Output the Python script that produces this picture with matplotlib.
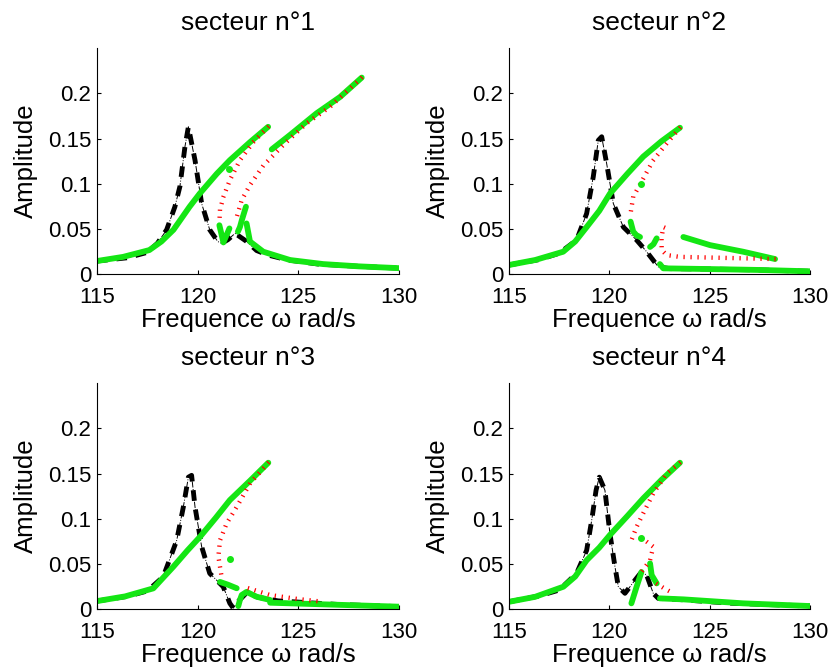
import matplotlib
matplotlib.use("Agg")
import matplotlib.pyplot as plt
import numpy as np
from matplotlib.collections import LineCollection

plt.rcParams['font.family'] = ['Liberation Sans', 'DejaVu Sans']

GREEN = '#14e614'

titles = ['secteur n°1', 'secteur n°2', 'secteur n°3', 'secteur n°4']
xticks = [115, 120, 125, 130]
yticks = [0, 0.05, 0.1, 0.15, 0.2]
ytick_labels = ['0', '0.05', '0.1', '0.15', '0.2']

# ---- secteur 1 ----
s1_black_x = [115, 116.5, 117.5, 118.0, 118.46, 118.87, 119.12, 119.37, 119.54, 119.87, 120.2, 120.6,
              121.0, 121.19, 121.5, 121.86, 122.44, 122.93, 123.5, 124.5, 126, 128, 130]
s1_black_y = [0.0144, 0.018, 0.024, 0.034, 0.049, 0.0745, 0.097, 0.141, 0.163, 0.126, 0.078, 0.049,
              0.036, 0.034, 0.038, 0.045, 0.036, 0.026, 0.021, 0.0155, 0.011, 0.0085, 0.0065]
s1_green = [
    ([115, 116.3, 117.6, 118.2, 118.8, 119.6, 120.1, 120.95, 121.6, 122.6, 123.5],
     [0.0144, 0.019, 0.0265, 0.036, 0.049, 0.0745, 0.089, 0.111, 0.126, 0.146, 0.163]),
    ([121.08, 121.28, 121.58], [0.054, 0.035, 0.0505]),
    ([122.0, 122.1, 122.2, 122.4], [0.047, 0.052, 0.060, 0.0745]),
    ([122.43, 122.6, 123.26, 124.59, 126.24, 128, 130], [0.056, 0.036, 0.0247, 0.0155, 0.011, 0.0085, 0.0065]),
    ([123.68, 124.59, 125.91, 127.07, 128.15], [0.138, 0.154, 0.178, 0.196, 0.2175]),
]
s1_red = [
    ([123.51, 122.76, 122.1, 121.6, 121.28, 121.11, 121.08], [0.163, 0.146, 0.126, 0.104, 0.0855, 0.0708, 0.057]),
    ([128.15, 126.57, 125.42, 124.26, 123.26, 122.6, 122.19, 121.94], [0.2175, 0.185, 0.167, 0.143, 0.12, 0.0985, 0.082, 0.063]),
]
s1_dot = (121.57, 0.116)

# ---- secteur 2 ----
s2_black_x = [115, 116.5, 117.5, 118.37, 118.87, 119.2, 119.45, 119.62, 119.87, 120.2, 120.7, 121.36,
              121.86, 122.44, 123, 125, 127.5, 130]
s2_black_y = [0.010, 0.016, 0.023, 0.0376, 0.067, 0.1076, 0.148, 0.152, 0.122, 0.078, 0.052, 0.0376,
              0.0247, 0.008, 0.006, 0.0055, 0.0045, 0.003]
s2_green = [
    ([115, 116.3, 117.7, 118.3, 118.87, 119.5, 120.03, 120.9, 121.69, 122.6, 123.52],
     [0.010, 0.0155, 0.0247, 0.036, 0.052, 0.070, 0.089, 0.111, 0.130, 0.147, 0.162]),
    ([121.06, 121.19, 121.35, 121.53], [0.058, 0.047, 0.043, 0.041]),
    ([122.03, 122.2, 122.36], [0.030, 0.033, 0.0395]),
    ([122.52, 122.69, 125.0, 127.5, 130], [0.011, 0.0063, 0.0055, 0.0045, 0.003]),
    ([123.69, 125.02, 126.67, 128.26], [0.041, 0.032, 0.0247, 0.0166]),
]
s2_red = [
    ([123.52, 122.86, 122.19, 121.6, 121.19, 121.03], [0.162, 0.1446, 0.126, 0.102, 0.0855, 0.063]),
    ([128.26, 125.5, 123.5, 122.86, 122.61, 122.6, 122.69, 122.9], [0.0166, 0.018, 0.019, 0.021, 0.0265, 0.04, 0.052, 0.05]),
]
s2_dot = (121.6, 0.0996)

# ---- secteur 3 ----
s3_black_x = [115, 116.5, 117.5, 118.29, 118.96, 119.29, 119.54, 119.7, 119.87, 120.2, 120.6, 121.27,
              121.6, 121.77, 122.0, 122.43, 123, 124, 127, 130]
s3_black_y = [0.0088, 0.014, 0.020, 0.0357, 0.076, 0.113, 0.146, 0.148, 0.113, 0.069, 0.0395, 0.0247,
              0.0063, 0.001, 0.008, 0.018, 0.013, 0.009, 0.005, 0.0026]
s3_green = [
    ([115, 116.4, 117.8, 118.79, 119.5, 120.12, 120.9, 121.6, 122.6, 123.51],
     [0.0088, 0.014, 0.0229, 0.0468, 0.065, 0.080, 0.101, 0.1206, 0.142, 0.162]),
    ([121.11, 121.5, 121.94], [0.030, 0.027, 0.023]),
    ([122.02, 122.1, 122.19, 122.43, 122.93, 123.6], [0.0033, 0.010, 0.0155, 0.019, 0.0136, 0.010]),
    ([123.6, 126.24, 130], [0.007, 0.0052, 0.0026]),
]
s3_red = [
    ([123.51, 122.6, 121.94, 121.44, 121.11, 121.03, 121.19], [0.162, 0.139, 0.113, 0.0948, 0.076, 0.058, 0.0357]),
    ([122.52, 123.6, 125, 126.24], [0.023, 0.0155, 0.011, 0.008]),
]
s3_dot = (121.6, 0.055)

# ---- secteur 4 ----
s4_black_x = [115, 116.5, 117.5, 118.37, 118.87, 119.12, 119.34, 119.5, 119.78, 120.03, 120.28, 120.45,
              120.78, 121.28, 121.6, 121.86, 122.19, 122.44, 123.5, 126, 130]
s4_black_y = [0.008, 0.0145, 0.021, 0.0395, 0.065, 0.098, 0.1316, 0.146, 0.1316, 0.0837, 0.047, 0.0247,
              0.0174, 0.032, 0.041, 0.0376, 0.0174, 0.0118, 0.0105, 0.0065, 0.0033]
s4_green = [
    ([115, 116.3, 117.71, 118.3, 118.87, 119.5, 120.03, 120.9, 121.69, 122.6, 123.52],
     [0.008, 0.0135, 0.0247, 0.036, 0.054, 0.068, 0.082, 0.103, 0.1225, 0.143, 0.162]),
    ([121.1, 121.35, 121.6], [0.0063, 0.024, 0.041]),
    ([122.03, 122.11, 122.36], [0.0505, 0.0376, 0.0284]),
    ([122.52, 123.69, 126.67, 130], [0.0118, 0.0107, 0.0063, 0.0033]),
]
s4_red = [
    ([123.52, 122.86, 122.19, 121.69, 121.36, 121.1], [0.162, 0.150, 0.128, 0.106, 0.091, 0.076]),
    ([121.6, 122.19, 122.03, 121.6], [0.079, 0.069, 0.054, 0.041]),
    ([122.36, 122.8, 123.19], [0.028, 0.022, 0.0174]),
]
s4_dot = (121.6, 0.079)

sectors = [
    (s1_black_x, s1_black_y, s1_green, s1_red, s1_dot),
    (s2_black_x, s2_black_y, s2_green, s2_red, s2_dot),
    (s3_black_x, s3_black_y, s3_green, s3_red, s3_dot),
    (s4_black_x, s4_black_y, s4_green, s4_red, s4_dot),
]

# axes boxes in figure fractions (left, bottom, width, height)
boxes = [(0.1167, 0.591, 0.3634, 0.337), (0.6125, 0.591, 0.3622, 0.337),
         (0.1167, 0.091, 0.3634, 0.337), (0.6125, 0.091, 0.3622, 0.337)]


def red_ticks(ax, xs, ys, step=7.0, half=2.2):
    # the unstable branches look like little red ticks across the curve
    tr = ax.transData
    pts = tr.transform(np.column_stack([xs, ys]))
    segs = []
    carry = 0.0
    for p0, p1 in zip(pts[:-1], pts[1:]):
        d = p1 - p0
        L = np.hypot(d[0], d[1])
        if L == 0:
            continue
        u = d / L
        n = np.array([-u[1], u[0]])
        s = carry
        while s < L:
            c = p0 + u * s
            segs.append(tr.inverted().transform([c - n * half, c + n * half]))
            s += step
        carry = s - L
    ax.add_collection(LineCollection(segs, colors='red', linewidths=0.9))


fig = plt.figure(figsize=(8.31, 6.70), dpi=100)

for i in range(4):
    bx, by, greens, reds, dot = sectors[i]
    ax = fig.add_axes(boxes[i])
    ax.set_xlim(115, 130)
    ax.set_ylim(0, 0.25)

    ax.plot(bx, by, color='k', lw=3.5, ls=(0, (2.2, 1.8)), solid_capstyle='butt')
    ax.plot(bx, by, color='k', lw=0.7, ls='-.')
    for gx, gy in greens:
        ax.plot(gx, gy, color=GREEN, lw=4.2, solid_capstyle='round')
    for rx, ry in reds:
        red_ticks(ax, rx, ry)
    ax.plot(dot[0], dot[1], 'o', color=GREEN, ms=4, mec=GREEN)

    ax.set_xticks(xticks)
    ax.set_yticks(yticks)
    ax.set_yticklabels(ytick_labels)
    ax.spines['top'].set_visible(False)
    ax.spines['right'].set_visible(False)
    ax.tick_params(direction='in', length=3, labelsize=16)
    ax.tick_params(axis='x', pad=9.5)
    ax.tick_params(axis='y', pad=4)
    ax.set_title(titles[i], fontsize=19, pad=13)
    ax.set_xlabel('Frequence ω rad/s', fontsize=18.5, labelpad=0)
    ax.set_ylabel('Amplitude', fontsize=18.5, labelpad=7)

fig.savefig('out.png', dpi=100)
